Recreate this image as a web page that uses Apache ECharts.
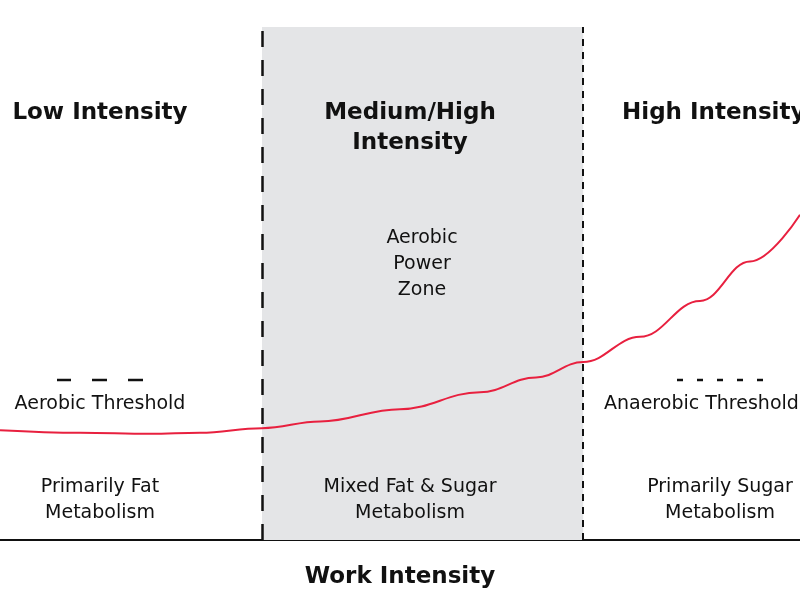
<!DOCTYPE html>
<html><head><meta charset="utf-8">
<script src="https://cdn.jsdelivr.net/npm/echarts@6/dist/echarts.min.js"></script>
<style>html,body{margin:0;padding:0;background:#fff}#c{width:800px;height:600px}</style>
</head><body><div id="c"></div>
<script>
const curveX = [0,10,18.75,25,32.75,40,50,60,67,72.9,80,87.5,93.75,100];
const curveY = [21.4,20.9,20.7,20.9,21.8,23.1,25.5,28.8,31.7,34.7,39.6,46.6,54.3,63.4];
const zoneBounds = [32.75,72.9];
const zoneTitles = ['Low Intensity','Medium/High\nIntensity','High Intensity'];
const thresholdLabels = ['Aerobic Threshold','Anaerobic Threshold'];
const metabolismLabels = ['Primarily Fat\nMetabolism','Mixed Fat & Sugar\nMetabolism','Primarily Sugar\nMetabolism'];
const zoneNote = 'Aerobic\nPower\nZone';
const axisTitle = 'Work Intensity';

function txt(x,y,t,size,bold,align){
  return {type:'text',x:x,y:y,z:10,style:{text:t,fontSize:size,fontWeight:bold?'bold':'normal',fontFamily:'"DejaVu Sans"',
    fill:'#111',align:align||'center',verticalAlign:'middle',lineHeight:bold?30:26}};
}
function dash(x1,x2,y){return {type:'line',z:10,shape:{x1:x1,y1:y,x2:x2,y2:y},style:{stroke:'#111',lineWidth:2.5}};}
const chart = echarts.init(document.getElementById('c'));
chart.setOption({
  animation:false,
  grid:{left:0,right:0,top:27,bottom:60},
  xAxis:{type:'value',min:0,max:100,axisLine:{lineStyle:{color:'#111',width:2}},axisTick:{show:false},axisLabel:{show:false},splitLine:{show:false},
    name:axisTitle,nameLocation:'middle',nameGap:26,nameTextStyle:{fontSize:23,fontWeight:'bold',fontFamily:'"DejaVu Sans"',color:'#111'}},
  yAxis:{type:'value',min:0,max:100,show:false},
  series:[{type:'line',smooth:0.4,smoothMonotone:'x',symbol:'none',data:curveX.map((x,i)=>[x,curveY[i]]),
    lineStyle:{color:'#e8203f',width:2},
    markArea:{silent:true,itemStyle:{color:'#e4e5e7'},data:[[{xAxis:zoneBounds[0]},{xAxis:zoneBounds[1]}]]},
    markLine:{silent:true,symbol:'none',label:{show:false},data:[
      {xAxis:zoneBounds[0],lineStyle:{color:'#111',width:2.5,type:[16,13]}},
      {xAxis:zoneBounds[1],lineStyle:{color:'#111',width:2,type:[7,6]}}]}
  }],
  graphic:[
    txt(100,113,zoneTitles[0],23,true),
    txt(410,128,zoneTitles[1],23,true),
    txt(622,113,zoneTitles[2],23,true,'left'),
    txt(422,264,zoneNote,19,false),
    txt(100,404,thresholdLabels[0],19,false),
    txt(604,404,thresholdLabels[1],19,false,'left'),
    txt(100,500,metabolismLabels[0],19,false),
    txt(410,500,metabolismLabels[1],19,false),
    txt(720,500,metabolismLabels[2],19,false),
    dash(57,71,380),dash(92,107,380),dash(128,143,380),
    dash(677,683,380),dash(697,703,380),dash(717,723,380),dash(737,743,380),dash(757,763,380)
  ]
});
</script></body></html>
